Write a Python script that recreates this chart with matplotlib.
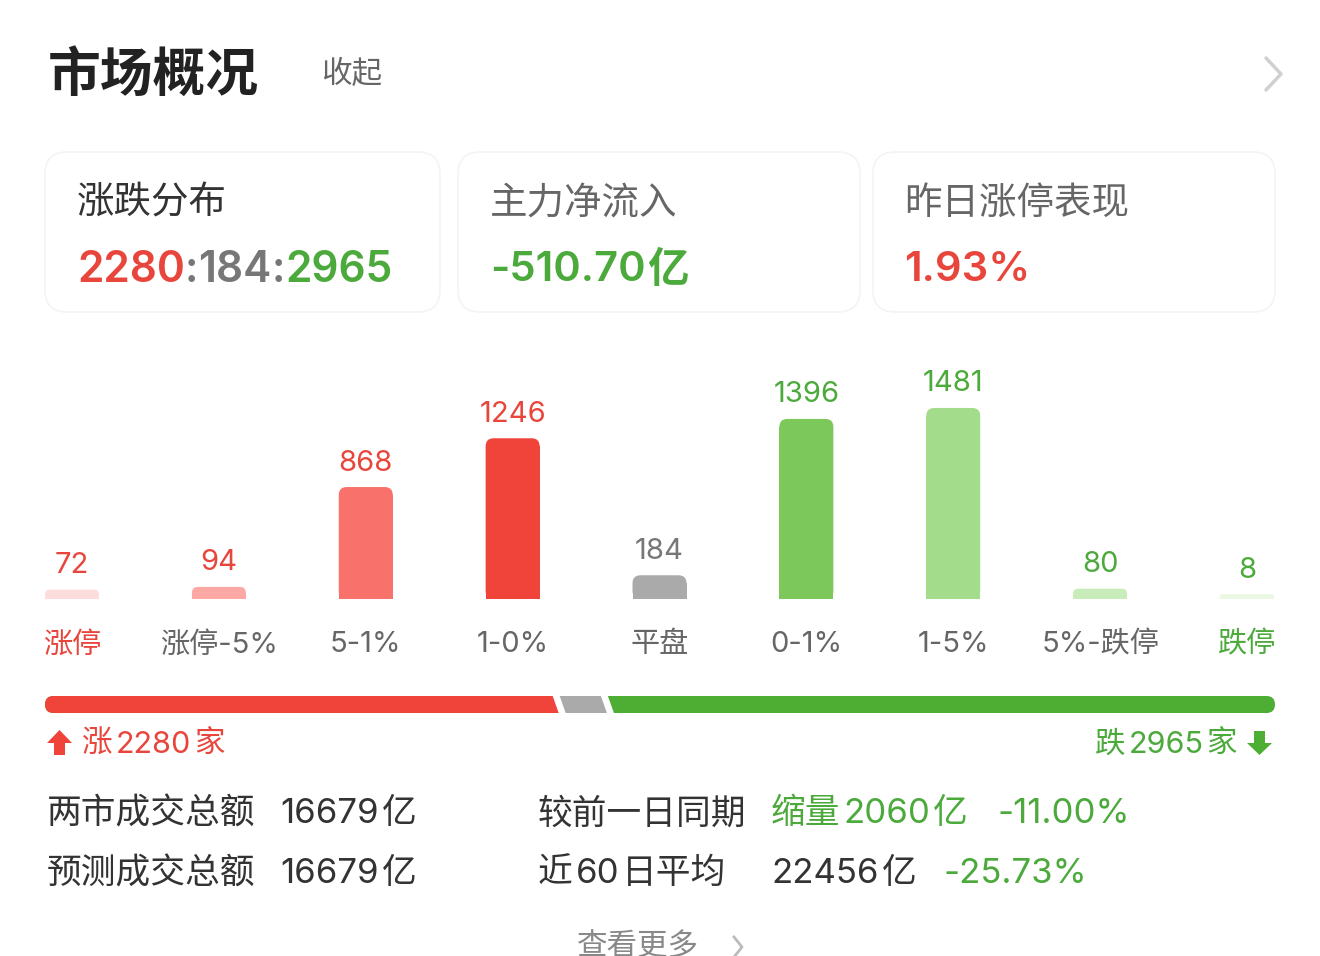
import matplotlib.pyplot as plt
import numpy as np
from matplotlib.patches import FancyBboxPatch, Polygon

# Inter for the digits (wider, closer to the phone font), Noto for the Chinese
plt.rcParams['font.family'] = ['Inter', 'Noto Sans CJK SC', 'DejaVu Sans']

# --- data ---
categories = ['涨停', '涨停-5%', '5-1%', '1-0%', '平盘', '0-1%', '1-5%', '5%-跌停', '跌停']
counts = [72, 94, 868, 1246, 184, 1396, 1481, 80, 8]
bar_colors = ['#fddcdc', '#fca9a6', '#f8716b', '#f0433a', '#aaaaaa',
              '#7dc85b', '#a3dc8a', '#c9ecbb', '#eaf8e4']

main_inflow = -510.70      # 亿
limit_up_perf = 1.93       # %
turnover = 16679           # 亿
forecast = 16679
turnover_change = 2060
turnover_change_pct = -11.00
avg60 = 22456
avg60_pct = -25.73

RED = '#e8463c'
GREEN = '#4caa3c'
GRAY = '#777777'
DARK = '#333333'
DY = 3   # nudge text down a bit

up = sum(counts[:4])
flat = counts[4]
down = sum(counts[5:])

fig = plt.figure(figsize=(13.2, 9.56), dpi=100)
fig.patch.set_facecolor('white')

# pixel-space axes for the card UI
ui = fig.add_axes([0, 0, 1, 1])
ui.set_xlim(0, 1320)
ui.set_ylim(956, 0)
ui.axis('off')
renderer = fig.canvas.get_renderer()


def txt(x, y, s, size, color, **kw):
    return ui.text(x, y + DY, s, fontsize=size, color=color, va='center', **kw)


def runs(x, y, parts, size, weight='normal', gap=0):
    for s, c in parts:
        t = txt(x, y, s, size, c, fontweight=weight, ha='left')
        x += t.get_window_extent(renderer).width + gap
    return x


# header
txt(48, 73, '市场概况', 38, '#222222', fontweight='bold')
txt(321, 71, '收起', 22, '#666666')
ui.plot([1266, 1281, 1266], [58, 74, 90], color='#d0d0d0', lw=2.5, solid_capstyle='round')

# three cards
for x0, x1 in [(45, 440), (458, 860), (873, 1275)]:
    ui.add_patch(FancyBboxPatch((x0, 152), x1 - x0, 160,
                                boxstyle='round,pad=0,rounding_size=22',
                                fc='white', ec='#f4f4f4', lw=1.2))
txt(77, 201, '涨跌分布', 27, DARK)
txt(490, 201, '主力净流入', 27, '#666666')
txt(904, 201, '昨日涨停表现', 27, '#666666')
runs(77, 267, [(str(up), RED), (':', GRAY), (str(flat), GRAY), (':', GRAY), (str(down), GREEN)],
     30.5, 'semibold')
runs(490, 267, [(f'{main_inflow:.2f}', GREEN), ('亿', GREEN)], 30, 'semibold', gap=2)
runs(904, 267, [(f'{limit_up_perf:.2f}%', RED)], 30, 'semibold')

# --- distribution bars ---
step = (1247 - 72) / 8
px_per_count = 0.129
base_px, top_px = 599, 340
bx = fig.add_axes([0, (956 - base_px) / 956, 1, (base_px - top_px) / 956])
bx.set_xlim(-72 / step, (1320 - 72) / step)
bx.set_ylim(0, (base_px - top_px) / px_per_count)
bx.axis('off')
bx.patch.set_alpha(0)

x = np.arange(len(counts))
bar_w = 54 / step
shown = np.maximum(counts, 5 / px_per_count)   # tiny bars keep a visible sliver
r_px = np.minimum(8, shown * px_per_count / 2)
rx = r_px / step
ry = r_px / px_per_count
bx.bar(x, shown - ry, width=bar_w, color=bar_colors, linewidth=0)
for i in range(len(counts)):
    bx.add_patch(FancyBboxPatch((x[i] - bar_w / 2, 0), bar_w, shown[i],
                                boxstyle=f'round,pad=0,rounding_size={rx[i]}',
                                mutation_aspect=ry[i] / rx[i],
                                fc=bar_colors[i], ec='none'))
    vcol = RED if i < 4 else (GRAY if i == 4 else GREEN)
    bx.annotate(str(counts[i]), (x[i], shown[i]), xytext=(0, (27 - DY) * 0.72),
                textcoords='offset points', ha='center', va='center',
                fontsize=21, color=vcol, annotation_clip=False)
    lcol = RED if i == 0 else (GREEN if i == len(counts) - 1 else '#666666')
    bx.annotate(categories[i], (x[i], 0), xytext=(0, -(43 + DY) * 0.72),
                textcoords='offset points', ha='center', va='center',
                fontsize=21, color=lcol, annotation_clip=False)

# --- up / flat / down proportion bar ---
L, R, T, H = 45, 1275, 696, 17
gap, sl = 7, 3
total = up + flat + down
usable = (R - L) - 2 * gap
red_end = L + usable * up / total
gray_start = red_end + gap
gray_end = gray_start + usable * flat / total
green_start = gray_end + gap
ui.add_patch(FancyBboxPatch((L, T), R - L, H, boxstyle='round,pad=0,rounding_size=8.5',
                            fc='#4eae34', ec='none'))
ui.add_patch(FancyBboxPatch((L, T), red_end - L + 15, H, boxstyle='round,pad=0,rounding_size=8.5',
                            fc='#f0433a', ec='none'))
ui.add_patch(Polygon([(red_end - sl, T), (green_start - sl, T), (green_start + sl, T + H),
                      (red_end + sl, T + H)], closed=True, fc='white', ec='none'))
ui.add_patch(Polygon([(gray_start - sl, T), (gray_end - sl, T), (gray_end + sl, T + H),
                      (gray_start + sl, T + H)], closed=True, fc='#aaaaaa', ec='none'))

# arrows + counts
ui.add_patch(Polygon([(59.5, 730), (72, 743), (65, 743), (65, 755), (54, 755), (54, 743), (47, 743)],
                     closed=True, fc='#f0433a', ec='none'))
ui.add_patch(Polygon([(1254, 731), (1265, 731), (1265, 743), (1272, 743), (1259.5, 755),
                      (1247, 743), (1254, 743)], closed=True, fc='#4eae34', ec='none'))
runs(82, 742, [('涨', RED), (str(up), RED), ('家', RED)], 22, gap=3)
# right-aligned: measure then place
probe = [('跌', GREEN), (str(down), GREEN), ('家', GREEN)]
widths = []
for s, c in probe:
    t = txt(0, -100, s, 22, c)
    widths.append(t.get_window_extent(renderer).width)
    t.remove()
runs(1237 - sum(widths) - 3 * (len(widths) - 1), 742, probe, 22, gap=3)

# --- turnover stats ---
txt(47, 811, '两市成交总额', 25, DARK)
runs(280, 811, [(str(turnover), DARK), ('亿', DARK)], 25, gap=3)
txt(538, 811, '较前一日同期', 25, DARK)
runs(771, 811, [('缩量', GREEN), (str(turnover_change), GREEN), ('亿', GREEN)], 25, gap=3)
runs(997, 811, [(f'{turnover_change_pct:.2f}%', GREEN)], 25)
txt(47, 871, '预测成交总额', 25, DARK)
runs(280, 871, [(str(forecast), DARK), ('亿', DARK)], 25, gap=3)
runs(538, 871, [('近', DARK), ('60', DARK), ('日平均', DARK)], 25, gap=3)
runs(771, 871, [(str(avg60), DARK), ('亿', DARK)], 25, gap=3)
runs(943, 871, [(f'{avg60_pct:.2f}%', GREEN)], 25)

txt(577, 944, '查看更多', 22, '#888888')
ui.plot([734, 742, 734], [937, 947, 957], color='#bbbbbb', lw=2)

fig.savefig('out.png', dpi=100, facecolor='white')
